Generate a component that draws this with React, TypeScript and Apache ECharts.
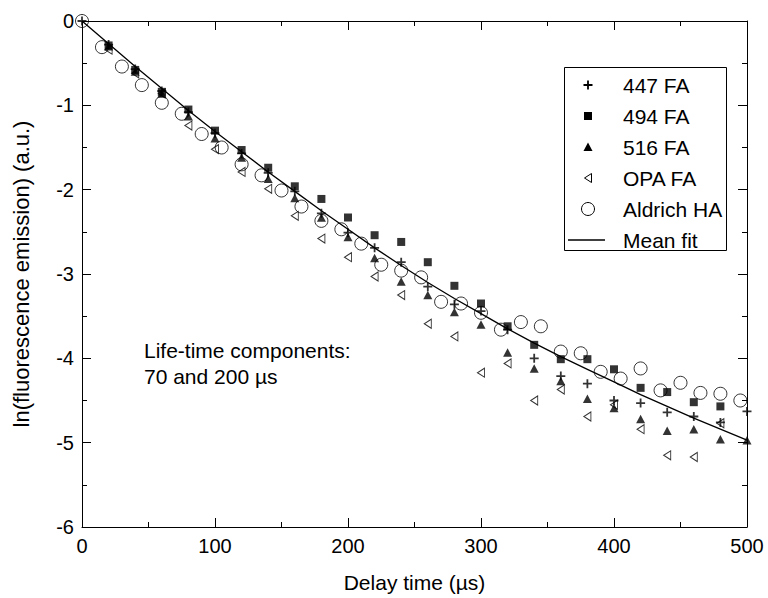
import React, { useEffect, useRef } from "react";
import * as echarts from "echarts";

// ---- Data ----
const times447 = [0, 20, 40, 60, 80, 100, 120, 140, 160, 180, 200, 220, 240, 260, 280, 300, 320, 340, 360, 380, 400, 420, 440, 460, 480, 500];
const values447 = [0, -0.28, -0.57, -0.83, -1.08, -1.33, -1.57, -1.8, -2.02, -2.28, -2.51, -2.69, -2.86, -3.15, -3.36, -3.44, -3.66, -4.0, -4.21, -4.3, -4.5, -4.53, -4.64, -4.69, -4.76, -4.63];

const times494 = [20, 40, 60, 80, 100, 120, 140, 160, 180, 200, 220, 240, 260, 280, 300, 320, 340, 360, 380, 400, 420, 440, 460, 480];
const values494 = [-0.29, -0.58, -0.84, -1.05, -1.3, -1.53, -1.74, -1.96, -2.11, -2.33, -2.54, -2.62, -2.86, -3.14, -3.35, -3.62, -3.84, -4.01, -4.01, -4.13, -4.35, -4.4, -4.52, -4.57];

const times516 = [20, 40, 60, 80, 100, 120, 140, 160, 180, 200, 220, 240, 260, 280, 300, 320, 340, 360, 380, 400, 420, 440, 460, 480, 500];
const values516 = [-0.3, -0.6, -0.86, -1.13, -1.39, -1.62, -1.87, -2.1, -2.33, -2.56, -2.81, -3.09, -3.25, -3.45, -3.6, -3.93, -4.12, -4.27, -4.48, -4.59, -4.72, -4.86, -4.84, -4.96, -4.97];

const timesOPA = [20, 40, 60, 80, 100, 120, 140, 160, 180, 200, 220, 240, 260, 280, 300, 320, 340, 360, 380, 400, 420, 440, 460, 480];
const valuesOPA = [-0.34, -0.62, -0.86, -1.24, -1.52, -1.79, -1.99, -2.31, -2.58, -2.8, -3.03, -3.25, -3.59, -3.74, -4.17, -4.06, -4.5, -4.37, -4.69, -4.55, -4.84, -5.15, -5.17, -4.77];

const timesAldrich = [0, 15, 30, 45, 60, 75, 90, 105, 120, 135, 150, 165, 180, 195, 210, 225, 240, 255, 270, 285, 300, 315, 330, 345, 360, 375, 390, 405, 420, 435, 450, 465, 480, 495];
const valuesAldrich = [0, -0.31, -0.54, -0.76, -0.97, -1.1, -1.34, -1.5, -1.7, -1.83, -2.01, -2.2, -2.37, -2.47, -2.64, -2.89, -2.96, -3.04, -3.33, -3.35, -3.46, -3.66, -3.57, -3.62, -3.92, -3.94, -4.16, -4.24, -4.12, -4.38, -4.29, -4.41, -4.42, -4.5];

const timesFit = [0, 20, 40, 60, 80, 100, 120, 140, 160, 180, 200, 220, 240, 260, 280, 300, 320, 340, 360, 380, 400, 420, 440, 460, 480, 500];
const valuesFit = [0, -0.27, -0.54, -0.8, -1.06, -1.31, -1.55, -1.79, -2.02, -2.25, -2.47, -2.69, -2.9, -3.1, -3.29, -3.47, -3.65, -3.82, -3.98, -4.13, -4.28, -4.43, -4.57, -4.71, -4.84, -4.97];

const legendNames = ["447 FA", "494 FA", "516 FA", "OPA FA", "Aldrich HA", "Mean fit"];
const annotationLines = ["Life-time components:", "70 and 200 µs"];
const xTitle = "Delay time (µs)";
const yTitle = "ln(fluorescence emission) (a.u.)";

const FONT = "'Liberation Sans', Arial, Helvetica, sans-serif";
const zip = (t: number[], v: number[]) => t.map((x, i) => [x, v[i]]);

const PLUS = "path://M4,0H6V4H10V6H6V10H4V6H0V4H4Z";
const LEFT_TRI = "path://M0,5L10,0L10,10Z";

function buildOption() {
  const axisCommon = {
    axisLine: { show: true, onZero: false, lineStyle: { color: "#000", width: 1 } },
    axisTick: { show: true, inside: true, length: 9, lineStyle: { color: "#000", width: 1 } },
    minorTick: { show: true, splitNumber: 2, length: 5, lineStyle: { color: "#000", width: 1 } },
    splitLine: { show: false },
    minorSplitLine: { show: false },
  };
  const labelStyle = { color: "#000", fontSize: 20, fontFamily: FONT };

  const legendX = 588;
  const legendTextX = 623;
  const legendY0 = 85;
  const legendStep = 31;
  const ly = (i: number) => legendY0 + i * legendStep;

  const graphic: any[] = [
    {
      type: "rect",
      shape: { x: 564.5, y: 67.5, width: 162, height: 183 },
      style: { fill: "#fff", stroke: "#000", lineWidth: 1 },
      z: 10,
    },
    {
      type: "polygon",
      shape: {
        points: [
          [legendX - 0.9, ly(0) - 4.5], [legendX + 0.9, ly(0) - 4.5], [legendX + 0.9, ly(0) - 0.9],
          [legendX + 4.5, ly(0) - 0.9], [legendX + 4.5, ly(0) + 0.9], [legendX + 0.9, ly(0) + 0.9],
          [legendX + 0.9, ly(0) + 4.5], [legendX - 0.9, ly(0) + 4.5], [legendX - 0.9, ly(0) + 0.9],
          [legendX - 4.5, ly(0) + 0.9], [legendX - 4.5, ly(0) - 0.9], [legendX - 0.9, ly(0) - 0.9],
        ],
      },
      style: { fill: "#000" },
      z: 11,
    },
    { type: "rect", shape: { x: legendX - 4, y: ly(1) - 4, width: 8, height: 8 }, style: { fill: "#000" }, z: 11 },
    {
      type: "polygon",
      shape: { points: [[legendX, ly(2) - 4.5], [legendX + 4.5, ly(2) + 4], [legendX - 4.5, ly(2) + 4]] },
      style: { fill: "#000" },
      z: 11,
    },
    {
      type: "polygon",
      shape: { points: [[legendX - 3.5, ly(3)], [legendX + 3.5, ly(3) - 4.5], [legendX + 3.5, ly(3) + 4.5]] },
      style: { fill: "none", stroke: "#000", lineWidth: 1 },
      z: 11,
    },
    { type: "circle", shape: { cx: legendX, cy: ly(4), r: 6.5 }, style: { fill: "none", stroke: "#000", lineWidth: 1 }, z: 11 },
    { type: "line", shape: { x1: 568, y1: ly(5), x2: 605, y2: ly(5) }, style: { stroke: "#000", lineWidth: 1.3 }, z: 11 },
  ];
  legendNames.forEach((name, i) => {
    graphic.push({
      type: "text",
      x: legendTextX,
      y: ly(i),
      z: 11,
      style: { text: name, fill: "#000", fontSize: 21, fontFamily: FONT, verticalAlign: "middle", align: "left" },
    });
  });
  annotationLines.forEach((line, i) => {
    graphic.push({
      type: "text",
      x: 144,
      y: 350 + i * 26,
      z: 11,
      style: { text: line, fill: "#000", fontSize: 21, fontFamily: FONT, verticalAlign: "middle", align: "left" },
    });
  });

  return {
    animation: false,
    backgroundColor: "#fff",
    grid: { left: 82, right: 21, top: 21, bottom: 70, containLabel: false },
    xAxis: [
      {
        type: "value",
        position: "bottom",
        min: 0,
        max: 500,
        interval: 100,
        ...axisCommon,
        axisLabel: { ...labelStyle, margin: 9 },
        name: xTitle,
        nameLocation: "middle",
        nameGap: 45,
        nameTextStyle: { color: "#000", fontSize: 21, fontFamily: FONT },
      },
      {
        type: "value",
        position: "top",
        min: 0,
        max: 500,
        interval: 100,
        ...axisCommon,
        axisLabel: { show: false },
      },
    ],
    yAxis: [
      {
        type: "value",
        position: "left",
        min: -6,
        max: 0,
        interval: 1,
        ...axisCommon,
        axisLabel: { ...labelStyle, margin: 8 },
        name: yTitle,
        nameLocation: "middle",
        nameGap: 50,
        nameTextStyle: { color: "#000", fontSize: 22, fontFamily: FONT },
      },
      {
        type: "value",
        position: "right",
        min: -6,
        max: 0,
        interval: 1,
        ...axisCommon,
        axisLabel: { show: false },
      },
    ],
    series: [
      {
        name: "Mean fit",
        type: "line",
        data: zip(timesFit, valuesFit),
        showSymbol: false,
        symbol: "none",
        smooth: false,
        lineStyle: { color: "#000", width: 1.3 },
        z: 2,
      },
      {
        name: "447 FA",
        type: "scatter",
        data: zip(times447, values447),
        symbol: PLUS,
        symbolSize: 9,
        itemStyle: { color: "#000" },
        z: 3,
      },
      {
        name: "494 FA",
        type: "scatter",
        data: zip(times494, values494),
        symbol: "rect",
        symbolSize: 8,
        itemStyle: { color: "#000" },
        z: 3,
      },
      {
        name: "516 FA",
        type: "scatter",
        data: zip(times516, values516),
        symbol: "triangle",
        symbolSize: [9, 8.5],
        itemStyle: { color: "#000" },
        z: 3,
      },
      {
        name: "OPA FA",
        type: "scatter",
        data: zip(timesOPA, valuesOPA),
        symbol: LEFT_TRI,
        symbolSize: [7, 9],
        itemStyle: { color: "transparent", borderColor: "#000", borderWidth: 1 },
        z: 3,
      },
      {
        name: "Aldrich HA",
        type: "scatter",
        data: zip(timesAldrich, valuesAldrich),
        symbol: "circle",
        symbolSize: 13,
        itemStyle: { color: "transparent", borderColor: "#000", borderWidth: 1 },
        z: 3,
      },
    ],
    graphic,
  };
}

export default function App() {
  const ref = useRef<HTMLDivElement>(null);
  useEffect(() => {
    if (!ref.current) return;
    const chart = echarts.init(ref.current, null, { renderer: "svg" });
    chart.setOption(buildOption() as any);
    return () => chart.dispose();
  }, []);
  return (
    <div
      ref={ref}
      style={{ position: "fixed", left: 0, top: 0, width: 768, height: 598, background: "#fff" }}
    />
  );
}
